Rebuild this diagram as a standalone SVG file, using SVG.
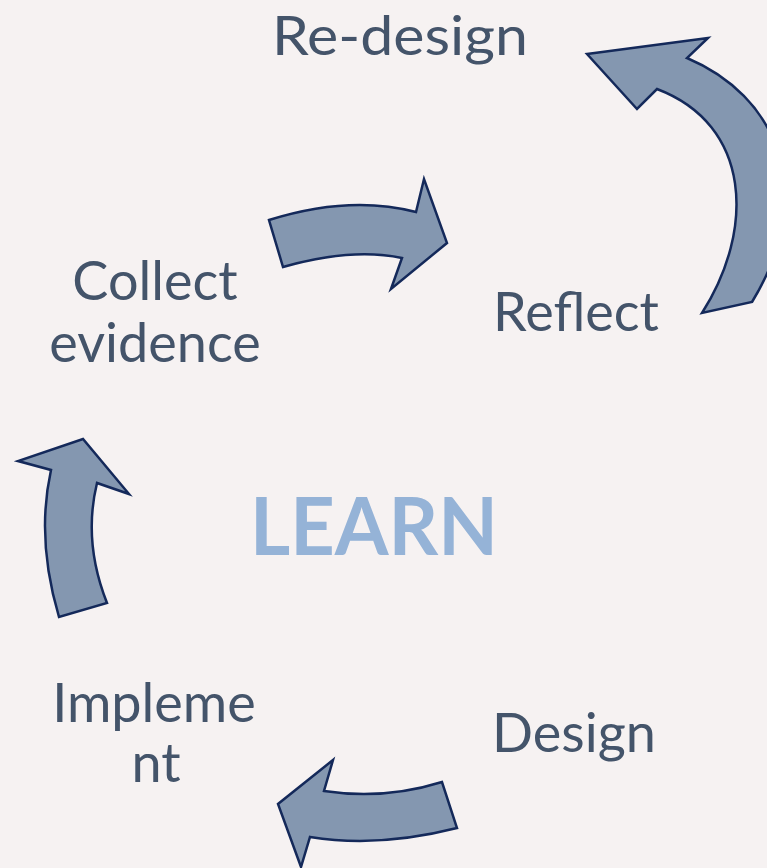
<svg xmlns="http://www.w3.org/2000/svg" width="767" height="868" viewBox="0 0 767 868">
<style>
.lbl{font-family:Lato,"Liberation Sans",sans-serif;font-size:54px;fill:#44546A;text-anchor:middle}
.arr{fill:#8497B0;stroke:#14295A;stroke-width:2.5;stroke-linejoin:miter}
.big{font-family:Lato,"Liberation Sans",sans-serif;font-size:80px;font-weight:bold;fill:#95B3D7;text-anchor:middle}
</style>
<rect width="767" height="868" fill="#F6F2F2"/>
<g id="connectors">
<path class="arr" d="M587,54 L708,38 L687,58 C775,95 820,190 752,302 L702,313 C755,230 752,125 657,89 L637,109 Z"/>
<path class="arr" d="M269,220 C320,204 370,200 416,212 L424,179 L447,243 L391,289 L402,258 C365,250 325,255 283,267 Z"/>
<path class="arr" d="M107,603 C90,560 88,520 97,483 L129,494 L83,439 L18,461 L51,470 C40,520 45,570 59,617 Z"/>
<path class="arr" d="M442,782 C410,792 370,798 324,791 L333,760 L278,804 L301,867 L310,837 C360,845 410,840 457,828 Z"/>
</g>
<g id="redesign"><text class="lbl" x="400" y="55" textLength="256" lengthAdjust="spacingAndGlyphs">Re-design</text></g>
<g id="collect"><text class="lbl" x="155" y="300">Collect</text><text class="lbl" x="155" y="362">evidence</text></g>
<g id="reflect"><text class="lbl" x="576" y="331">Reflect</text></g>
<g id="learn"><text class="big" x="374" y="555" textLength="248" lengthAdjust="spacingAndGlyphs">LEARN</text></g>
<g id="implement"><text class="lbl" x="154" y="722">Impleme</text><text class="lbl" x="156" y="782">nt</text></g>
<g id="design"><text class="lbl" x="574" y="752">Design</text></g>
</svg>
